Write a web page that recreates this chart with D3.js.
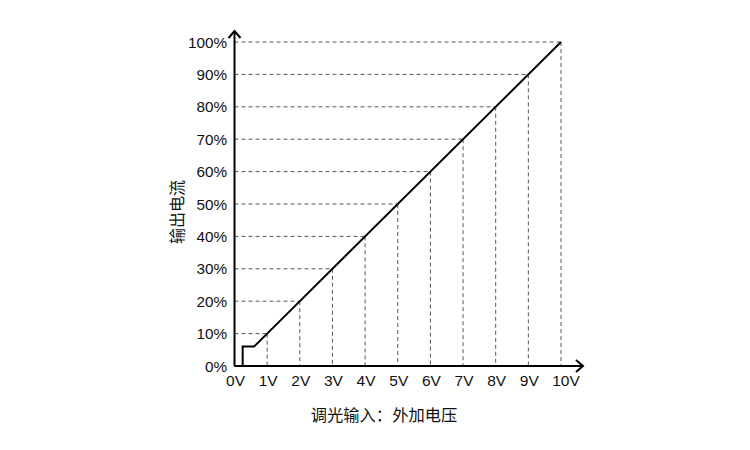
<!DOCTYPE html>
<html><head><meta charset="utf-8">
<script src="https://cdn.jsdelivr.net/npm/d3@7"></script>
<style>body{margin:0;background:#fff}svg{display:block}text{font-family:"Liberation Sans",Arial,"Noto Sans CJK SC",sans-serif}</style>
</head><body><svg id="c" width="750" height="450"></svg>
<script>
const xTicks = [0,1,2,3,4,5,6,7,8,9,10];
const xTickLabels = ["0V","1V","2V","3V","4V","5V","6V","7V","8V","9V","10V"];
const yTicks = [0,10,20,30,40,50,60,70,80,90,100];
const yTickLabels = ["0%","10%","20%","30%","40%","50%","60%","70%","80%","90%","100%"];
const curveX = [0,0.25,0.25,0.6,1,10];
const curveY = [0,0,6,6,10,100];
const guideX = [1,2,3,4,5,6,7,8,9,10];
const guideY = [10,20,30,40,50,60,70,80,90,100];
const xTitle = "调光输入：外加电压";
const yTitle = "输出电流";

const svg = d3.select("#c");
const x = d3.scaleLinear().domain([0,10]).range([234.5,561]);
const y = d3.scaleLinear().domain([0,100]).range([366,42]);

// guides
const g = svg.append("g").attr("stroke","#555").attr("stroke-width",1).attr("stroke-dasharray","4,3").attr("fill","none");
guideX.forEach((v,i)=>{
  g.append("line").attr("x1",x(0)).attr("x2",x(v)).attr("y1",y(guideY[i])).attr("y2",y(guideY[i]));
  g.append("line").attr("x1",x(v)).attr("x2",x(v)).attr("y1",y(guideY[i])).attr("y2",y(0));
});

// curve
const pts = curveX.map((v,i)=>[v,curveY[i]]);
svg.append("path").attr("d",d3.line().x(d=>x(d[0])).y(d=>y(d[1]))(pts))
  .attr("fill","none").attr("stroke","#000").attr("stroke-width",2);

// axes
const ax = svg.append("g").attr("stroke","#000").attr("stroke-width",2).attr("fill","none");
ax.append("line").attr("x1",x(0)).attr("x2",583).attr("y1",y(0)).attr("y2",y(0));
ax.append("line").attr("x1",x(0)).attr("x2",x(0)).attr("y1",y(0)).attr("y2",31);
ax.append("path").attr("d",`M${576},${y(0)-6}L${583},${y(0)}L${576},${y(0)+6}`);
ax.append("path").attr("d",`M${x(0)-6},${38}L${x(0)},${31}L${x(0)+6},${38}`);

// tick labels
svg.append("g").selectAll("text").data(xTicks).join("text")
  .attr("x",d=>x(d)+(d===10?5:1)).attr("y",386).attr("text-anchor","middle").attr("font-size",15.5).attr("fill","#111")
  .text((d,i)=>xTickLabels[i]);
svg.append("g").selectAll("text").data(yTicks).join("text")
  .attr("x",227).attr("y",d=>y(d)+5.5).attr("text-anchor","end").attr("font-size",15.3).attr("fill","#111")
  .text((d,i)=>yTickLabels[i]);

svg.append("text").attr("x",384).attr("y",421).attr("text-anchor","middle").attr("font-size",16.3).attr("fill","#111")
  .style("font-family","'Noto Sans CJK SC',sans-serif").text(xTitle);
svg.append("text").attr("transform","translate(183,212) rotate(-90)").attr("text-anchor","middle").attr("font-size",16).attr("fill","#111")
  .style("font-family","'Noto Sans CJK SC',sans-serif").text(yTitle);
</script></body></html>
